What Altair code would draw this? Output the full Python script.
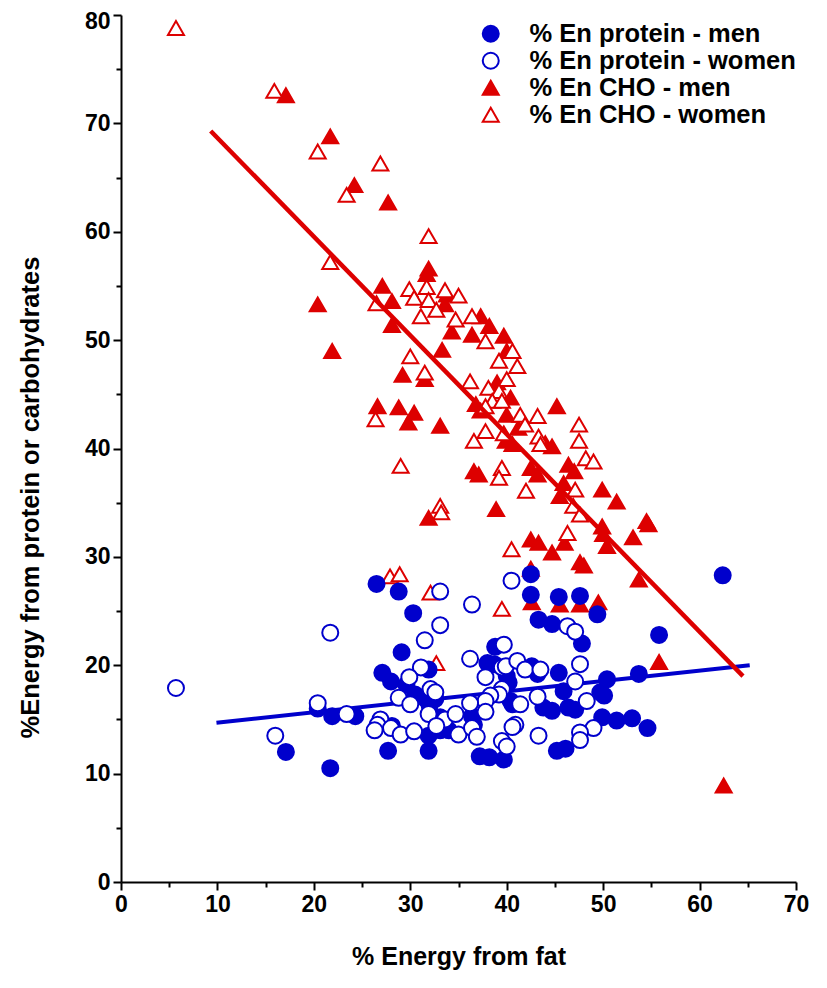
import altair as alt
import pandas as pd

BLUE = "#0000cc"
RED = "#dd0000"
FONT = "Liberation Sans"

series_names = ["% En protein - men", "% En protein - women", "% En CHO - men", "% En CHO - women"]
series_shapes = ["circle", "circle", "triangle-up", "triangle-up"]
series_fills = [BLUE, "white", RED, "white"]
series_strokes = [BLUE, BLUE, RED, RED]

# % energy from protein - men
pm_fat = [26.5, 28.8, 30.3, 29.1, 27.1, 28.0, 31.9, 29.6, 30.5, 31.6, 32.0, 32.6, 33.1, 28.1, 27.7,
          31.9, 31.9, 33.1, 17.1, 21.7, 20.4, 21.9, 24.3, 42.5, 42.5, 45.4, 47.6, 49.4, 43.3, 44.7,
          47.8, 38.8, 38.0, 38.7, 42.6, 43.2, 40.0, 40.2, 45.4, 50.4, 53.7, 55.8, 49.7, 50.1, 45.9,
          40.4, 40.6, 43.8, 44.7, 46.4, 47.1, 49.9, 51.4, 53.0, 54.6, 45.2, 46.1, 36.4, 36.6, 37.2,
          38.2, 39.7, 62.4, 34.0]
pm_val = [27.5, 26.8, 24.8, 21.2, 19.3, 18.5, 19.6, 18.2, 17.3, 16.9, 16.3, 16.9, 15.2, 14.4, 12.1,
          12.1, 13.5, 14.0, 12.0, 10.5, 16.0, 15.3, 15.3, 28.4, 26.5, 26.3, 26.4, 24.7, 24.2, 23.8,
          22.0, 21.7, 20.2, 20.1, 19.9, 19.2, 19.0, 18.4, 19.3, 18.7, 19.2, 22.8, 17.5, 17.2, 17.6,
          16.7, 16.4, 16.1, 15.8, 16.1, 15.9, 15.2, 14.9, 15.1, 14.2, 12.1, 12.3, 15.3, 14.5, 11.6,
          11.5, 11.3, 28.3, 14.0]

# % energy from protein - women
pw_fat = [5.7, 21.7, 16.0, 20.4, 23.4, 33.1, 33.1, 31.5, 31.1, 29.9, 28.8, 30.0, 32.1, 32.6, 31.9,
          33.6, 34.7, 35.0, 26.9, 26.6, 26.3, 28.0, 29.0, 30.4, 32.7, 40.5, 36.4, 46.3, 47.1, 47.6,
          39.7, 36.2, 39.5, 39.9, 41.1, 41.9, 43.5, 37.8, 47.1, 39.5, 39.2, 38.3, 37.8, 36.2, 41.4,
          43.2, 48.3, 49.0, 47.6, 47.6, 43.3, 37.8, 36.4, 36.9, 39.5, 40.0, 40.9, 40.6]
pw_val = [17.9, 23.0, 13.5, 16.5, 15.5, 26.8, 23.7, 22.3, 19.8, 18.9, 17.0, 16.4, 17.8, 17.5, 15.5,
          15.0, 15.5, 13.6, 15.0, 14.5, 14.0, 14.2, 13.6, 13.9, 14.4, 27.8, 25.6, 23.6, 23.1, 20.1,
          21.9, 20.6, 19.8, 19.9, 20.4, 19.6, 19.6, 18.9, 18.5, 17.8, 17.3, 17.2, 16.7, 16.5, 16.4,
          17.1, 16.7, 14.2, 13.8, 13.1, 13.5, 15.7, 14.2, 13.4, 13.0, 12.5, 14.5, 14.3]

# % energy from carbohydrates - men
cm_fat = [17.1, 21.7, 24.2, 27.7, 20.4, 31.9, 31.7, 27.1, 28.1, 33.8, 28.1, 21.9, 33.3, 29.2, 31.5,
          26.6, 28.8, 30.4, 29.8, 33.1, 31.9, 33.6, 34.3, 37.3, 38.2, 36.4, 39.7, 40.0, 39.0, 40.4,
          36.8, 45.2, 40.0, 37.3, 41.2, 39.9, 40.6, 44.0, 44.7, 36.6, 37.1, 42.5, 43.2, 46.4, 47.0,
          45.9, 49.9, 45.5, 51.4, 38.9, 54.5, 54.7, 49.9, 50.0, 53.1, 50.4, 42.5, 43.3, 44.7, 46.0,
          47.6, 48.0, 53.7, 42.5, 42.6, 45.5, 47.6, 49.5, 55.8, 62.5]
cm_val = [72.6, 68.8, 64.3, 62.7, 53.3, 56.6, 56.1, 55.0, 53.6, 54.2, 51.4, 49.0, 49.1, 46.8, 46.4,
          43.9, 43.8, 43.3, 42.4, 42.1, 33.6, 53.3, 50.8, 52.2, 51.3, 50.5, 50.4, 49.0, 46.1, 44.7,
          44.1, 43.9, 43.1, 43.5, 41.9, 40.7, 40.4, 40.5, 40.2, 37.9, 37.6, 38.2, 37.6, 38.5, 37.9,
          36.8, 36.2, 35.6, 35.1, 34.4, 33.3, 33.0, 32.8, 32.1, 31.8, 31.0, 31.6, 31.3, 30.4, 31.3,
          29.5, 29.2, 27.9, 28.9, 25.8, 25.6, 25.6, 25.8, 20.3, 8.9]

# % energy from carbohydrates - women
cw_fat = [5.7, 15.9, 20.4, 26.9, 23.4, 31.9, 21.7, 26.5, 29.9, 30.4, 31.7, 31.9, 32.7, 31.1, 35.0,
          34.7, 33.6, 30.0, 31.5, 26.4, 29.0, 33.1, 33.2, 27.9, 28.9, 32.1, 32.7, 36.4, 37.8, 40.6,
          39.2, 41.1, 36.2, 38.1, 40.0, 39.2, 38.5, 37.8, 39.5, 41.4, 43.2, 41.9, 47.5, 37.8, 36.6,
          39.7, 43.3, 43.5, 47.5, 48.2, 49.0, 39.5, 39.2, 42.0, 47.1, 46.9, 47.6, 46.3, 40.5, 39.5]
cw_val = [78.8, 73.0, 67.4, 66.3, 63.4, 59.6, 57.2, 53.4, 54.7, 53.9, 54.9, 53.7, 52.8, 52.2, 54.1,
          51.9, 54.6, 48.5, 47.0, 42.7, 38.4, 34.7, 34.1, 28.2, 28.4, 26.7, 20.2, 52.2, 49.9, 49.0,
          48.1, 47.6, 46.2, 45.6, 46.4, 45.3, 44.4, 43.9, 44.4, 43.1, 43.0, 42.2, 42.2, 41.6, 40.7,
          41.4, 41.1, 40.4, 40.7, 39.1, 38.8, 38.2, 37.3, 36.1, 36.2, 34.7, 33.9, 32.2, 30.7, 25.2]

# regression lines (end points)
cho_fit_fat = [9.3, 64.5]
cho_fit_val = [69.3, 19.0]
prot_fit_fat = [9.9, 65.2]
prot_fit_val = [14.7, 20.0]

frames = []
for name, xs, ys in [
    (series_names[2], cm_fat, cm_val),
    (series_names[3], cw_fat, cw_val),
    (series_names[0], pm_fat, pm_val),
    (series_names[1], pw_fat, pw_val),
]:
    frames.append(pd.DataFrame({"fat": xs, "val": ys, "series": name}))
points_df = pd.concat(frames, ignore_index=True)
points_df["order"] = range(len(points_df))

cho_fit_df = pd.DataFrame({"fat": cho_fit_fat, "val": cho_fit_val})
prot_fit_df = pd.DataFrame({"fat": prot_fit_fat, "val": prot_fit_val})

major_test = "datum.value % 10 === 0"
tick_size = {"condition": {"test": major_test, "value": 8}, "value": 5}
label_expr = "datum.value % 10 === 0 ? datum.label : ''"

common_axis = dict(
    grid=False,
    domainColor="black",
    domainWidth=2,
    tickColor="black",
    tickWidth=2,
    tickSize=tick_size,
    labelExpr=label_expr,
    labelFont=FONT,
    labelFontSize=23,
    labelFontWeight="bold",
    labelColor="black",
    labelOverlap=False,
    labelFlush=False,
    titleFont=FONT,
    titleFontWeight="bold",
    titleColor="black",
)

x_enc = alt.X(
    "fat:Q",
    scale=alt.Scale(domain=[0, 70], nice=False),
    axis=alt.Axis(values=list(range(0, 71, 5)), title="% Energy from fat",
                  labelPadding=3, titlePadding=28, titleFontSize=25, **common_axis),
)
y_enc = alt.Y(
    "val:Q",
    scale=alt.Scale(domain=[0, 80], nice=False),
    axis=alt.Axis(values=list(range(0, 81, 5)), title="%Energy from protein or carbohydrates",
                  labelPadding=3, titlePadding=41, titleFontSize=25.5, titleY=482,
                  labelOffset={"condition": {"test": "datum.value === 80", "value": 6}, "value": 0},
                  **common_axis),
)

legend = alt.Legend(
    title=None,
    orient="none",
    legendX=357,
    legendY=6,
    padding=0,
    labelFont=FONT,
    labelFontSize=25.5,
    labelFontWeight="bold",
    labelColor="black",
    labelLimit=500,
    labelOffset=26,
    symbolSize=256,
    symbolStrokeWidth=2,
    rowPadding=-2,
)

points = alt.Chart(points_df).mark_point(size=256, strokeWidth=2, opacity=1).encode(
    x=x_enc,
    y=y_enc,
    shape=alt.Shape("series:N", scale=alt.Scale(domain=series_names, range=series_shapes), legend=legend),
    fill=alt.Fill("series:N", scale=alt.Scale(domain=series_names, range=series_fills), legend=legend),
    stroke=alt.Stroke("series:N", scale=alt.Scale(domain=series_names, range=series_strokes), legend=legend),
    order=alt.Order("order:Q"),
)

prot_line = alt.Chart(prot_fit_df).mark_line(color=BLUE, strokeWidth=4).encode(x="fat:Q", y="val:Q")
cho_line = alt.Chart(cho_fit_df).mark_line(color=RED, strokeWidth=4.5).encode(x="fat:Q", y="val:Q")

chart = alt.layer(prot_line, points, cho_line).properties(
    width=675,
    height=867,
    autosize=alt.AutoSizeParams(type="none"),
    padding={"left": 113, "top": 7, "right": 23, "bottom": 98},
    background="white",
).configure_view(stroke=None)

chart.save("out.html", embed_options={"renderer": "svg", "actions": False})
